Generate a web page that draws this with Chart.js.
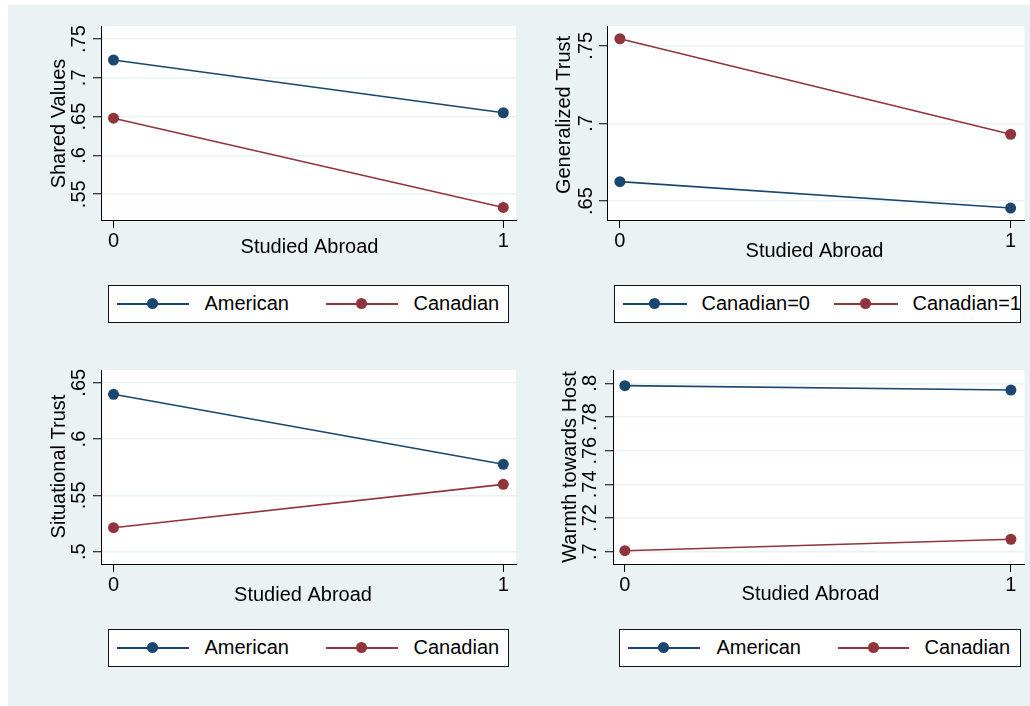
<!DOCTYPE html>
<html>
<head>
<meta charset="utf-8">
<title>Studied Abroad</title>
<script src="https://cdn.jsdelivr.net/npm/chart.js@4.4.0/dist/chart.umd.min.js"></script>
<style>
  body {
    margin: 0;
    width: 1030px;
    height: 706px;
    overflow: hidden;
    background: #ffffff;
    font-family: "Liberation Sans", Arial, Helvetica, sans-serif;
  }
  .graph-region {
    position: absolute;
    left: 8px;
    top: 5px;
    width: 1022px;
    height: 701px;
    background: #eaf2f3;
  }
  canvas {
    position: absolute;
  }
  .legend {
    position: absolute;
    box-sizing: border-box;
    border: 1.5px solid #111;
    background: #ffffff;
  }
  .key-line {
    position: absolute;
    height: 2px;
  }
  .key-dot {
    position: absolute;
    width: 11px;
    height: 11px;
    border-radius: 50%;
  }
  .key-label {
    position: absolute;
    top: 0;
    font-size: 20px;
    color: #000;
    white-space: nowrap;
  }
</style>
</head>
<body>
<div class="graph-region"></div>
<canvas id="shared"></canvas>
<canvas id="general"></canvas>
<canvas id="situational"></canvas>
<canvas id="warmth"></canvas>

<script>
// x categories
const studiedAbroad = [0, 1];
const xTicks = [0, 1];

// Shared Values
const sharedAmerican = [0.723, 0.655];
const sharedCanadian = [0.648, 0.533];
const sharedTicks = [0.55, 0.6, 0.65, 0.7, 0.75];

// Generalized Trust
const generalCanadian0 = [0.6625, 0.6455];
const generalCanadian1 = [0.7545, 0.693];
const generalTicks = [0.65, 0.7, 0.75];

// Situational Trust
const situationalAmerican = [0.6397, 0.5776];
const situationalCanadian = [0.5213, 0.5598];
const situationalTicks = [0.5, 0.55, 0.6, 0.65];

// Warmth towards Host
const warmthAmerican = [0.7986, 0.796];
const warmthCanadian = [0.7006, 0.7074];
const warmthTicks = [0.7, 0.72, 0.74, 0.76, 0.78, 0.8];

const NAVY = "#1a476f";
const MAROON = "#90353b";
const FONT = "'Liberation Sans', Arial, Helvetica, sans-serif";

const stataLabel = (v) => String(v).replace(/^0/, "");

const toPoints = (values) =>
  studiedAbroad.map((x, i) => ({ x: x, y: values[i] }));

const makeDataset = function (label, values, color) {
  return {
    label: label,
    data: toPoints(values),
    borderColor: color,
    backgroundColor: color,
    borderWidth: 1.6,
    pointRadius: 5.5,
    pointBorderWidth: 0,
    pointHoverRadius: 5.5,
  };
};

// white plot region
const plotRegion = {
  id: "plotRegion",
  beforeDraw(chart) {
    const { ctx, chartArea } = chart;
    ctx.save();
    ctx.fillStyle = "#ffffff";
    ctx.fillRect(
      chartArea.left,
      chartArea.top,
      chartArea.right - chartArea.left,
      chartArea.bottom - chartArea.top
    );
    ctx.restore();
  },
};

// rotated y tick labels and axis titles, Stata style
const stataText = {
  id: "stataText",
  afterDraw(chart, args, opts) {
    const ctx = chart.ctx;
    const yScale = chart.scales.y;
    const half = 7.2;
    ctx.save();
    ctx.fillStyle = "#000";
    ctx.font = "20px " + FONT;
    ctx.textAlign = "center";
    ctx.textBaseline = "alphabetic";

    yScale.ticks.forEach((t) => {
      const py = yScale.getPixelForValue(t.value);
      ctx.save();
      ctx.translate(opts.tickX + half, py);
      ctx.rotate(-Math.PI / 2);
      ctx.fillText(stataLabel(t.value), 0, 0);
      ctx.restore();
    });

    ctx.save();
    ctx.translate(opts.yTitleX + half, opts.yTitleY);
    ctx.rotate(-Math.PI / 2);
    ctx.fillText(opts.yTitle, 0, 0);
    ctx.restore();

    ctx.fillText(opts.xTitle, opts.xTitleX, opts.xTitleY + half);
    ctx.restore();
  },
};

const buildLegend = function (datasets, spec) {
  const [bx, by, bw, bh] = spec.box;
  const box = document.createElement("div");
  box.className = "legend";
  box.style.left = bx + "px";
  box.style.top = by + "px";
  box.style.width = bw + "px";
  box.style.height = bh + "px";

  datasets.forEach((ds, i) => {
    const [x0, x1, tx] = spec.items[i];
    const mid = bh / 2 - 1.5;

    const line = document.createElement("div");
    line.className = "key-line";
    line.style.left = x0 - bx - 1.5 + "px";
    line.style.width = x1 - x0 + "px";
    line.style.top = mid - 1 + "px";
    line.style.background = ds.borderColor;
    box.appendChild(line);

    const dot = document.createElement("div");
    dot.className = "key-dot";
    dot.style.left = (x0 + x1) / 2 - bx - 1.5 - 5.5 + "px";
    dot.style.top = mid - 5.5 + "px";
    dot.style.background = ds.borderColor;
    box.appendChild(dot);

    const label = document.createElement("span");
    label.className = "key-label";
    label.textContent = ds.label;
    label.style.left = tx - bx - 1.5 + "px";
    label.style.lineHeight = bh - 3 + "px";
    box.appendChild(label);
  });

  document.body.appendChild(box);
};

const makePanel = function (id, datasets, cfg) {
  const [cx, cy, cw, ch] = cfg.canvas;
  const [l, t, r, b] = cfg.area;
  const canvas = document.getElementById(id);
  canvas.width = cw;
  canvas.height = ch;
  canvas.style.left = cx + "px";
  canvas.style.top = cy + "px";

  new Chart(canvas.getContext("2d"), {
    type: "line",
    data: { datasets: datasets },
    options: {
      responsive: false,
      animation: false,
      events: [],
      layout: {
        padding: { left: 0, top: t - cy, right: cx + cw - r, bottom: 0 },
      },
      scales: {
        x: {
          type: "linear",
          min: cfg.xRange[0],
          max: cfg.xRange[1],
          afterBuildTicks: (s) => {
            s.ticks = xTicks.map((v) => ({ value: v }));
          },
          afterFit: (s) => {
            s.height = cy + ch - b;
          },
          grid: {
            drawOnChartArea: false,
            tickColor: "#000",
            tickLength: 8,
            tickWidth: 1,
          },
          border: { display: true, color: "#000", width: 1 },
          ticks: {
            autoSkip: false,
            maxRotation: 0,
            padding: 3.5,
            color: "#000",
            font: { family: FONT, size: 20, lineHeight: 1 },
            callback: (v) => String(v),
          },
        },
        y: {
          type: "linear",
          min: cfg.yRange[0],
          max: cfg.yRange[1],
          afterBuildTicks: (s) => {
            s.ticks = cfg.yTicks.map((v) => ({ value: v }));
          },
          afterFit: (s) => {
            s.width = l - cx;
          },
          grid: {
            color: "#eaf2f3",
            lineWidth: 1.5,
            tickColor: "#000",
            tickLength: 8,
            tickWidth: 1,
          },
          border: { display: true, color: "#000", width: 1 },
          ticks: { display: false },
        },
      },
      plugins: {
        legend: { display: false },
        tooltip: { enabled: false },
        stataText: {
          yTitle: cfg.yTitle,
          xTitle: "Studied Abroad",
          tickX: cfg.tickX - cx,
          yTitleX: cfg.yTitlePos[0] - cx,
          yTitleY: cfg.yTitlePos[1] - cy,
          xTitleX: cfg.xTitlePos[0] - cx,
          xTitleY: cfg.xTitlePos[1] - cy,
        },
      },
    },
    plugins: [plotRegion, stataText],
  });

  buildLegend(datasets, cfg.legend);
};

makePanel(
  "shared",
  [
    makeDataset("American", sharedAmerican, NAVY),
    makeDataset("Canadian", sharedCanadian, MAROON),
  ],
  {
    canvas: [8, 5, 520, 270],
    area: [101, 26, 516, 220],
    xRange: [-0.0321, 1.0326],
    yRange: [0.5168, 0.7668],
    yTicks: sharedTicks,
    yTitle: "Shared Values",
    tickX: 78,
    yTitlePos: [57.5, 123.5],
    xTitlePos: [309.5, 246],
    legend: {
      box: [108, 285, 401, 38],
      items: [
        [117, 189, 205],
        [326, 398, 414],
      ],
    },
  }
);

makePanel(
  "general",
  [
    makeDataset("Canadian=0", generalCanadian0, NAVY),
    makeDataset("Canadian=1", generalCanadian1, MAROON),
  ],
  {
    canvas: [528, 5, 502, 270],
    area: [607, 26, 1028, 220],
    xRange: [-0.033, 1.0355],
    yRange: [0.6378, 0.7627],
    yTicks: generalTicks,
    yTitle: "Generalized Trust",
    tickX: 584.5,
    yTitlePos: [563, 115],
    xTitlePos: [814.5, 250],
    legend: {
      box: [614, 285, 407, 38],
      items: [
        [623, 687, 702],
        [834, 898, 913],
      ],
    },
  }
);

makePanel(
  "situational",
  [
    makeDataset("American", situationalAmerican, NAVY),
    makeDataset("Canadian", situationalCanadian, MAROON),
  ],
  {
    canvas: [8, 345, 520, 270],
    area: [101, 370, 516, 564],
    xRange: [-0.0321, 1.0326],
    yRange: [0.4891, 0.6613],
    yTicks: situationalTicks,
    yTitle: "Situational Trust",
    tickX: 78,
    yTitlePos: [57.5, 466.5],
    xTitlePos: [303, 594],
    legend: {
      box: [108, 629, 401, 38],
      items: [
        [117, 189, 205],
        [326, 398, 414],
      ],
    },
  }
);

makePanel(
  "warmth",
  [
    makeDataset("American", warmthAmerican, NAVY),
    makeDataset("Canadian", warmthCanadian, MAROON),
  ],
  {
    canvas: [528, 345, 502, 270],
    area: [613, 370, 1028, 564],
    xRange: [-0.0308, 1.0352],
    yRange: [0.6927, 0.8079],
    yTicks: warmthTicks,
    yTitle: "Warmth towards Host",
    tickX: 588.5,
    yTitlePos: [569, 467],
    xTitlePos: [810.5, 593],
    legend: {
      box: [619, 629, 402, 38],
      items: [
        [628, 700, 717],
        [838, 909, 925],
      ],
    },
  }
);
</script>
</body>
</html>
